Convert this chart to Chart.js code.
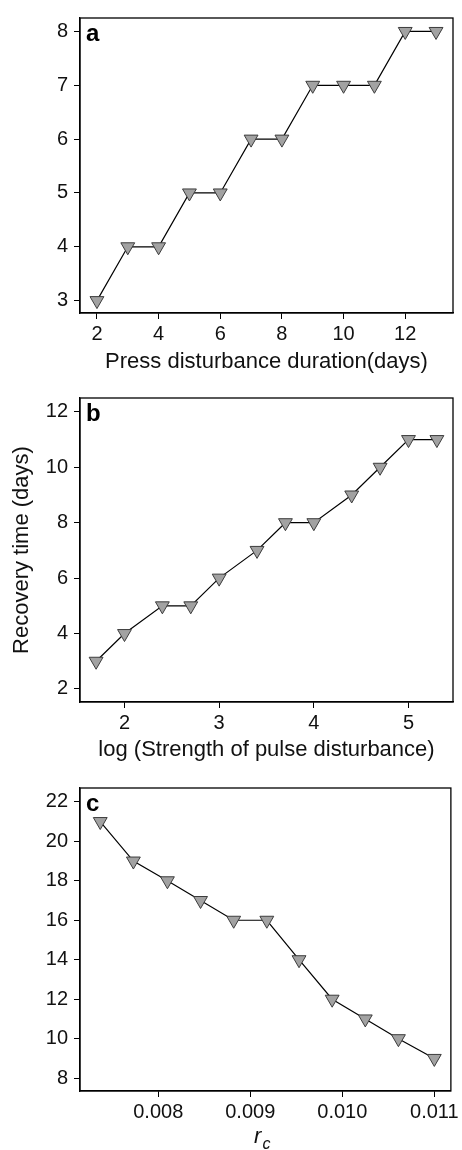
<!DOCTYPE html>
<html>
<head>
<meta charset="utf-8">
<script src="https://cdn.jsdelivr.net/npm/chart.js@4.4.1/dist/chart.umd.min.js"></script>
<style>
  body { margin: 0; background: #fff; width: 462px; height: 1150px; position: relative; overflow: hidden; }
  .panel { position: absolute; left: 0; width: 462px; }
  canvas { display: block; }
</style>
</head>
<body>
<div class="panel" style="top:0px"><canvas id="chartA" width="462" height="375"></canvas></div>
<div class="panel" style="top:380px"><canvas id="chartB" width="462" height="383"></canvas></div>
<div class="panel" style="top:770px"><canvas id="chartC" width="462" height="380"></canvas></div>
<script>
// panel a: press disturbance
var pressDays = [2, 3, 4, 5, 6, 7, 8, 9, 10, 11, 12, 13];
var pressRecovery = [3, 4, 4, 5, 5, 6, 6, 7, 7, 7, 8, 8];
var pressXTicks = [2, 4, 6, 8, 10, 12];
var pressYTicks = [3, 4, 5, 6, 7, 8];

// panel b: pulse disturbance
var pulseLogStrength = [1.7, 2.0, 2.4, 2.7, 3.0, 3.4, 3.7, 4.0, 4.4, 4.7, 5.0, 5.3];
var pulseRecovery = [3, 4, 5, 5, 6, 7, 8, 8, 9, 10, 11, 11];
var pulseXTicks = [2, 3, 4, 5];
var pulseYTicks = [2, 4, 6, 8, 10, 12];

// panel c: r_c
var rcValues = [0.00737, 0.00773, 0.00810, 0.00846, 0.00882, 0.00918, 0.00953, 0.00989, 0.01025, 0.01061, 0.01100];
var rcRecovery = [21, 19, 18, 17, 16, 16, 14, 12, 11, 10, 9];
var rcXTicks = [0.008, 0.009, 0.010, 0.011];
var rcYTicks = [8, 10, 12, 14, 16, 18, 20, 22];

var FONT = "'Liberation Sans', Arial, sans-serif";

var framePlugin = {
  id: 'frame',
  afterDraw: function (chart) {
    var a = chart.chartArea, ctx = chart.ctx;
    ctx.save();
    ctx.strokeStyle = '#000';
    ctx.lineWidth = 1.3;
    ctx.strokeRect(a.left, a.top, a.right - a.left, a.bottom - a.top);
    var tag = chart.options.plugins.frame.tag;
    ctx.fillStyle = '#000';
    ctx.font = 'bold 24px ' + FONT;
    ctx.textBaseline = 'alphabetic';
    ctx.fillText(tag, a.left + 6, a.top + 23);
    ctx.restore();
  }
};

var rcTitlePlugin = {
  id: 'rcTitle',
  afterDraw: function (chart) {
    if (!chart.options.plugins.rcTitle.on) return;
    var a = chart.chartArea, ctx = chart.ctx;
    var cx = (a.left + a.right) / 2 - 4;
    ctx.save();
    ctx.fillStyle = '#111';
    ctx.textBaseline = 'alphabetic';
    ctx.font = 'italic 22px ' + FONT;
    var w = ctx.measureText('r').width;
    ctx.fillText('r', cx - w, 373);
    ctx.font = 'italic 16px ' + FONT;
    ctx.fillText('c', cx + 1, 379);
    ctx.restore();
  }
};

function axis(min, max, tickValues, fmt, extra) {
  var cfg = {
    type: 'linear',
    min: min,
    max: max,
    afterBuildTicks: function (s) {
      s.ticks = tickValues.map(function (v) { return { value: v }; });
    },
    grid: { drawOnChartArea: false, drawTicks: true, tickLength: 6, color: '#000', lineWidth: 1 },
    border: { color: '#000', width: 1.3 },
    ticks: {
      color: '#111',
      font: { family: FONT, size: 20 },
      autoSkip: false,
      maxRotation: 0,
      callback: fmt || function (v) { return String(v); }
    }
  };
  for (var k in extra) cfg[k] = extra[k];
  return cfg;
}

function makePanel(id, xs, ys, opt) {
  var pts = xs.map(function (x, i) { return { x: x, y: ys[i] }; });
  var xAxis = axis(opt.xMin, opt.xMax, opt.xTicks, opt.xFmt, {
    position: 'bottom',
    afterFit: function (s) { s.height = opt.xHeight; },
    title: opt.xTitle ? { display: true, text: opt.xTitle, color: '#111', font: { family: FONT, size: 22 }, padding: { top: 0, bottom: 0 } } : { display: false }
  });
  xAxis.ticks.padding = 3;
  var yAxis = axis(opt.yMin, opt.yMax, opt.yTicks, null, {
    position: 'left',
    afterFit: function (s) { s.width = 80; },
    title: opt.yTitle ? { display: true, text: opt.yTitle, color: '#111', font: { family: FONT, size: 22 }, padding: { top: 9, bottom: 0 } } : { display: false }
  });
  yAxis.ticks.padding = 6;

  return new Chart(document.getElementById(id).getContext('2d'), {
    type: 'line',
    data: {
      datasets: [{
        data: pts,
        borderColor: '#000',
        borderWidth: 1.2,
        pointStyle: 'triangle',
        rotation: 180,
        pointRadius: 8,
        pointBackgroundColor: '#a2a2a2',
        pointBorderColor: '#3c3c3c',
        pointBorderWidth: 1,
        tension: 0
      }]
    },
    options: {
      responsive: false,
      animation: false,
      layout: { padding: { top: opt.padTop, right: 7, left: 0, bottom: 0 } },
      scales: { x: xAxis, y: yAxis },
      plugins: {
        legend: { display: false },
        tooltip: { enabled: false },
        frame: { tag: opt.tag },
        rcTitle: { on: !!opt.rcTitle }
      }
    },
    plugins: [framePlugin, rcTitlePlugin]
  });
}

makePanel('chartA', pressDays, pressRecovery, {
  tag: 'a', padTop: 9, xHeight: 62,
  xMin: 1.45, xMax: 13.55, xTicks: pressXTicks,
  yMin: 2.77, yMax: 8.25, yTicks: pressYTicks,
  xTitle: 'Press disturbance duration(days)'
});

makePanel('chartB', pulseLogStrength, pulseRecovery, {
  tag: 'b', padTop: 17, xHeight: 61,
  xMin: 1.53, xMax: 5.47, xTicks: pulseXTicks,
  yMin: 1.53, yMax: 12.5, yTicks: pulseYTicks,
  xTitle: 'log (Strength of pulse disturbance)',
  yTitle: 'Recovery time (days)'
});

makePanel('chartC', rcValues, rcRecovery, {
  tag: 'c', padTop: 16, xHeight: 59,
  xMin: 0.00715, xMax: 0.01118, xTicks: rcXTicks,
  xFmt: function (v) { return v.toFixed(3); },
  yMin: 7.35, yMax: 22.7, yTicks: rcYTicks,
  rcTitle: true
});
</script>
</body>
</html>
